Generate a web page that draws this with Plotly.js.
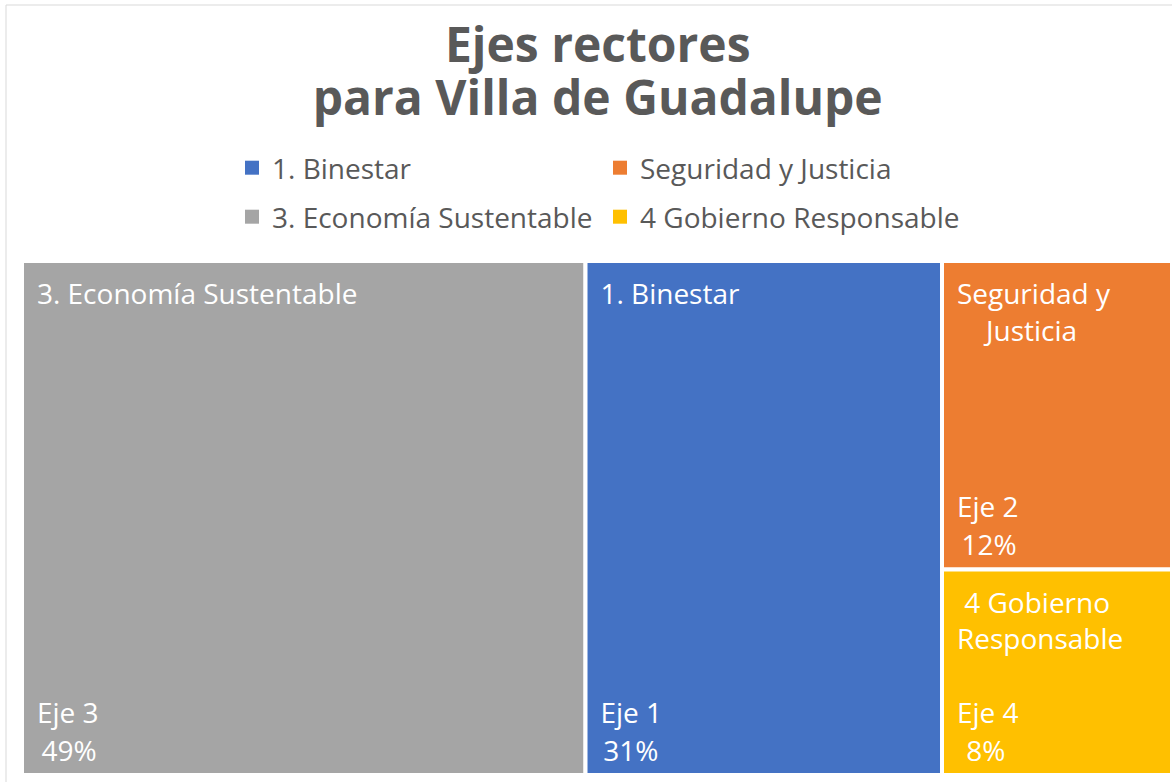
<!DOCTYPE html>
<html>
<head>
<meta charset="utf-8">
<script src="https://cdn.plot.ly/plotly-3.0.1.min.js"></script>
<style>html,body{margin:0;padding:0;background:#fff;}#chart{width:1172px;height:782px;}</style>
</head>
<body>
<div id="chart"></div>
<script>
// Data
const ids = ["eje3", "eje1", "eje2", "eje4"];
const cellLabels = ["3. Economía Sustentable", "1. Binestar", "Seguridad y<br>\u00a0\u00a0\u00a0\u00a0Justicia", "\u00a04 Gobierno<br>Responsable"];
const ejeLabels = ["Eje 3", "Eje 1", "Eje 2", "Eje 4"];
const percents = [49, 31, 12, 8];
const colors = ["#A5A5A5", "#4472C4", "#ED7D31", "#FFC000"];
const legendNames = ["1. Binestar", "Seguridad y Justicia", "3. Economía Sustentable", "4 Gobierno Responsable"];
const legendColors = ["#4472C4", "#ED7D31", "#A5A5A5", "#FFC000"];
const legendGroups = ["legend", "legend", "legend2", "legend2"];
const pctIndent = ["\u2009", "\u200a", "\u2009", "\u2009\u2009"];

const FONT = "Open Sans, Noto Sans, sans-serif";
const W = 1172, H = 782;
const dom = {x: [22 / W, 1172 / W], y: [7 / H, 521 / H]};
const parents = ids.map(() => "");
const IND = "\u00a0\u2009";
const TOPPAD = "<span style='font-size:4px'>\u00a0</span><br>";
const big = s => "<span style='font-size:28px'>" + s + "</span>";

const topText = cellLabels.map(t => TOPPAD + t.split("<br>").map(l => IND + l).join("<br>"));
const bottomText = ejeLabels.map((e, i) =>
  big(IND + e) + "<br>\u00a0<br>\u00a0<br>\u00a0<br>" + big(IND + pctIndent[i] + percents[i] + "%") + "<br>\u00a0");

const traces = [
  {
    type: "treemap",
    ids: ids, labels: ids, parents: parents, values: percents,
    text: topText, textinfo: "text", textposition: "top left",
    textfont: {family: FONT, size: 28, color: "#ffffff"},
    marker: {colors: colors, line: {color: "#ffffff", width: 4}, pad: {t: 0, l: 0, r: 0, b: 0}},
    tiling: {packing: "squarify", pad: 0},
    sort: false, pathbar: {visible: false}, domain: dom, hoverinfo: "skip"
  },
  {
    type: "treemap",
    ids: ids, labels: ids, parents: parents, values: percents,
    text: bottomText, textinfo: "text", textposition: "bottom left",
    textfont: {family: FONT, size: 7.3, color: "#ffffff"},
    marker: {colors: ids.map(() => "rgba(0,0,0,0)"), line: {width: 0}, pad: {t: 0, l: 0, r: 0, b: 0}},
    tiling: {packing: "squarify", pad: 0},
    sort: false, pathbar: {visible: false}, domain: dom, hoverinfo: "skip"
  }
];

legendNames.forEach((n, i) => {
  traces.push({
    type: "scatter", mode: "markers", x: [null], y: [null], name: n,
    legend: legendGroups[i], showlegend: true,
    marker: {symbol: "square", size: 14, color: legendColors[i]}
  });
});

const legendBase = {
  orientation: "h", xanchor: "left", yanchor: "middle",
  font: {family: FONT, size: 28, color: "#595959"},
  entrywidth: 323, entrywidthmode: "pixels", bgcolor: "rgba(0,0,0,0)", traceorder: "normal"
};

const layout = {
  width: W, height: H,
  margin: {l: 0, r: 0, t: 0, b: 0},
  paper_bgcolor: "#ffffff", plot_bgcolor: "#ffffff",
  title: {
    text: "<b><span style='font-size:48px'>Ejes rectores</span><br><span style='font-size:48px'>para Villa de Guadalupe</span></b>",
    font: {family: FONT, size: 41, color: "#595959"},
    x: 0.51, xanchor: "center", xref: "paper",
    y: 1 - 62 / H, yanchor: "top", yref: "container"
  },
  xaxis: {visible: false}, yaxis: {visible: false},
  legend: Object.assign({}, legendBase, {x: 232 / W, y: 1 - 168 / H}),
  legend2: Object.assign({}, legendBase, {x: 232 / W, y: 1 - 217 / H}),
  shapes: [{
    type: "rect", xref: "paper", yref: "paper",
    x0: 6 / W, x1: 1.05, y0: -0.05, y1: 1 - 5 / H,
    line: {color: "#D9D9D9", width: 1}, fillcolor: "rgba(0,0,0,0)", layer: "below"
  }],
  showlegend: true
};

Plotly.newPlot("chart", traces, layout, {displayModeBar: false, staticPlot: true});
</script>
</body>
</html>
